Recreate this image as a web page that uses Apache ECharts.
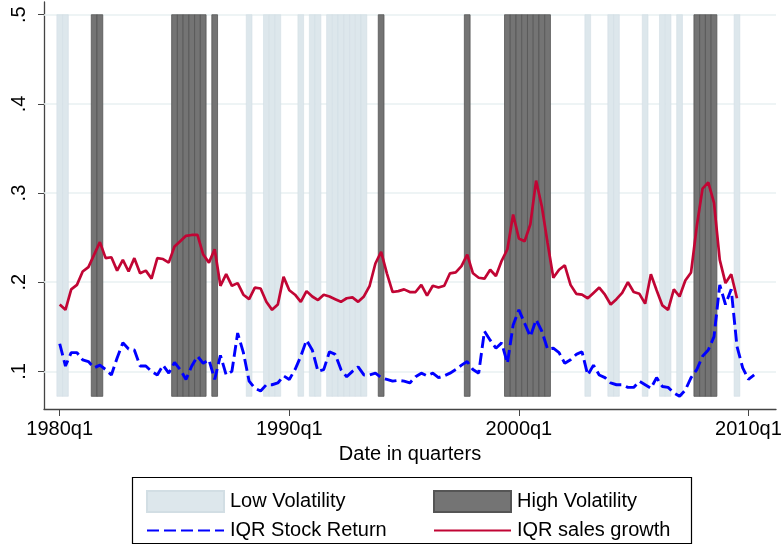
<!DOCTYPE html>
<html>
<head>
<meta charset="utf-8">
<title>IQR by volatility regime</title>
<script src="https://cdn.jsdelivr.net/npm/echarts@6.0.0/dist/echarts.min.js"></script>
<style>
    html, body { margin: 0; padding: 0; background: #fff; }
    #main { width: 781px; height: 545px; }
</style>
</head>
<body>
<div id="main"></div>
<script>
// quarters flagged as low / high volatility regimes
var lowVolQuarters = ['1980q1', '1980q2', '1988q2', '1989q1', '1989q2', '1989q3',
    '1990q3', '1991q1', '1991q2', '1991q4', '1992q1', '1992q2', '1992q3', '1992q4',
    '1993q1', '1993q2', '2003q1', '2004q1', '2004q2', '2005q3', '2006q2', '2006q3',
    '2007q1', '2009q3'];
var highVolQuarters = ['1981q3', '1981q4', '1985q1', '1985q2', '1985q3', '1985q4',
    '1986q1', '1986q2', '1986q4', '1994q1', '1997q4', '1999q3', '1999q4', '2000q1',
    '2000q2', '2000q3', '2000q4', '2001q1', '2001q2', '2007q4', '2008q1', '2008q2',
    '2008q3'];
// shaded band runs from ... to ...
var bandRange = [0.072, 0.5];

// IQR of sales growth, from 1980q1
var salesGrowth = [
    0.175, 0.169, 0.192, 0.197, 0.212, 0.217, 0.231, 0.245, 0.227, 0.228,
    0.213, 0.225, 0.212, 0.227, 0.210, 0.213, 0.204, 0.227, 0.226, 0.222,
    0.240, 0.246, 0.252, 0.253, 0.253, 0.231, 0.222, 0.237, 0.196, 0.209,
    0.196, 0.199, 0.186, 0.181, 0.194, 0.193, 0.178, 0.169, 0.175, 0.206,
    0.191, 0.186, 0.178, 0.190, 0.184, 0.180, 0.186, 0.184, 0.181, 0.178,
    0.182, 0.183, 0.178, 0.184, 0.196, 0.221, 0.234, 0.210, 0.189, 0.190,
    0.192, 0.189, 0.189, 0.197, 0.185, 0.196, 0.194, 0.196, 0.210, 0.211,
    0.218, 0.231, 0.210, 0.205, 0.204, 0.214, 0.207, 0.224, 0.237, 0.276,
    0.249, 0.246, 0.265, 0.314, 0.285, 0.244, 0.205, 0.214, 0.219, 0.197,
    0.187, 0.186, 0.182, 0.188, 0.194, 0.186, 0.175, 0.181, 0.188, 0.200,
    0.189, 0.187, 0.176, 0.209, 0.191, 0.174, 0.169, 0.192, 0.184, 0.202,
    0.211, 0.263, 0.305, 0.312, 0.289, 0.225, 0.199, 0.209, 0.182
];
// IQR of stock returns, from 1980q1
var stockReturn = [
    0.131, 0.106, 0.121, 0.121, 0.113, 0.111, 0.104, 0.107, 0.102, 0.096,
    0.115, 0.132, 0.125, 0.124, 0.106, 0.106, 0.100, 0.096, 0.107, 0.098,
    0.110, 0.102, 0.091, 0.106, 0.117, 0.109, 0.113, 0.091, 0.118, 0.096,
    0.100, 0.143, 0.121, 0.089, 0.081, 0.078, 0.085, 0.085, 0.087, 0.095,
    0.091, 0.102, 0.117, 0.135, 0.124, 0.100, 0.102, 0.122, 0.119, 0.102,
    0.094, 0.100, 0.105, 0.096, 0.096, 0.098, 0.093, 0.091, 0.089, 0.090,
    0.089, 0.087, 0.094, 0.098, 0.095, 0.098, 0.093, 0.095, 0.098, 0.102,
    0.107, 0.111, 0.102, 0.098, 0.145, 0.135, 0.126, 0.132, 0.109, 0.152,
    0.169, 0.154, 0.139, 0.158, 0.145, 0.125, 0.126, 0.121, 0.109, 0.113,
    0.119, 0.122, 0.096, 0.107, 0.096, 0.093, 0.087, 0.085, 0.085, 0.082,
    0.082, 0.089, 0.085, 0.081, 0.093, 0.083, 0.082, 0.076, 0.072, 0.079,
    0.093, 0.102, 0.117, 0.124, 0.139, 0.197, 0.175, 0.192, 0.128, 0.104,
    0.091, 0.096
];
var xTickQuarters = ['1980q1', '1990q1', '2000q1', '2010q1'];
var yTicks = [0.1, 0.2, 0.3, 0.4, 0.5];

var baseYear = 1980;
var font = "'Liberation Sans', Arial, sans-serif";

// '1985q3' -> quarters since 1980q1
function qIndex(label) {
    var parts = label.split('q');
    return (parseInt(parts[0], 10) - baseYear) * 4 + parseInt(parts[1], 10) - 1;
}
function qLabel(i) {
    return (baseYear + Math.floor(i / 4)) + 'q' + (i % 4 + 1);
}
function toPairs(values) {
    return values.map(function(v, i) { return [i, v]; });
}
function toBands(list) {
    return list.map(function(q) { return [qIndex(q), bandRange[0], bandRange[1]]; });
}
// one rectangle per quarter, centred on the quarter
function renderBand(params, api) {
    var x = api.value(0);
    var p0 = api.coord([x - 0.5, api.value(2)]);
    var p1 = api.coord([x + 0.5, api.value(1)]);
    return {
        type: 'rect',
        shape: { x: p0[0], y: p0[1], width: p1[0] - p0[0], height: p1[1] - p0[1] },
        style: api.style()
    };
}

var myChart = echarts.init(document.getElementById('main'));

// line entries in the legend: hide the marker dot, keep the line
var noDot = { color: 'rgba(0,0,0,0)', borderWidth: 0 };
var legendText = { fontSize: 20, color: '#000', fontFamily: font, padding: [0, 0, 0, 1] };

var option = {
    animation: false,
    backgroundColor: '#fff',
    textStyle: { fontFamily: font },
    grid: { left: 44, right: 5, top: 2, bottom: 136, outerBoundsMode: 'none', containLabel: false },
    legend: [{
        orient: 'vertical',
        left: 141, top: 485,
        itemWidth: 77, itemHeight: 21, itemGap: 7.5,
        textStyle: legendText,
        data: [{ name: 'Low Volatility', icon: 'rect' }, { name: 'IQR Stock Return', itemStyle: noDot }]
    }, {
        orient: 'vertical',
        left: 428, top: 485,
        itemWidth: 77, itemHeight: 21, itemGap: 7.5,
        textStyle: legendText,
        data: [{ name: 'High Volatility', icon: 'rect' }, { name: 'IQR sales growth', itemStyle: noDot }]
    }],
    graphic: [{
        type: 'rect',
        z: -1,
        shape: { x: 132.5, y: 477.5, width: 559, height: 66 },
        style: { fill: '#fff', stroke: '#000', lineWidth: 1.2 }
    }],
    xAxis: {
        type: 'value',
        min: -2.74,
        max: 124.8,
        name: 'Date in quarters',
        nameLocation: 'middle',
        nameGap: 35,
        nameTextStyle: { fontSize: 20, color: '#000', fontFamily: font },
        axisLine: { onZero: false, lineStyle: { color: '#444', width: 1.3 } },
        axisTick: { length: 7, lineStyle: { color: '#444' }, customValues: xTickQuarters.map(qIndex) },
        axisLabel: {
            customValues: xTickQuarters.map(qIndex),
            formatter: function(v) { return qLabel(v); },
            fontSize: 20, color: '#000', margin: 10, fontFamily: font
        },
        splitLine: { show: false }
    },
    yAxis: {
        type: 'value',
        min: 0.0578,
        max: 0.5143,
        axisLine: { show: true, onZero: false, lineStyle: { color: '#444', width: 1.3 } },
        axisTick: { show: true, length: 6, lineStyle: { color: '#444' }, customValues: yTicks },
        axisLabel: {
            customValues: yTicks,
            rotate: 90,
            margin: 15,
            formatter: function(v) { return v.toFixed(1).replace(/^0/, ''); },
            fontSize: 20, color: '#000', fontFamily: font
        },
        splitLine: { show: false }
    },
    series: [{
        // grid lines
        type: 'line',
        data: [],
        silent: true,
        z: 1,
        markLine: {
            z: 1,
            silent: true,
            symbol: 'none',
            label: { show: false },
            lineStyle: { color: '#e8f0f2', width: 1.6, type: 'solid' },
            data: yTicks.map(function(v) { return { yAxis: v }; })
        }
    }, {
        name: 'Low Volatility',
        type: 'custom',
        z: 3,
        renderItem: renderBand,
        encode: { x: 0, y: [1, 2] },
        itemStyle: { color: '#dde7ec', borderColor: '#d2dee4', borderWidth: 0.6 },
        data: toBands(lowVolQuarters)
    }, {
        name: 'High Volatility',
        type: 'custom',
        z: 3,
        renderItem: renderBand,
        encode: { x: 0, y: [1, 2] },
        itemStyle: { color: '#747474', borderColor: '#555', borderWidth: 0.8 },
        data: toBands(highVolQuarters)
    }, {
        name: 'IQR Stock Return',
        type: 'line',
        z: 4,
        symbol: 'none',
        lineStyle: { color: '#0000ff', width: 2.9, type: [12, 5] },
        itemStyle: { color: '#0000ff' },
        data: toPairs(stockReturn)
    }, {
        name: 'IQR sales growth',
        type: 'line',
        z: 5,
        symbol: 'none',
        lineStyle: { color: '#c10534', width: 2.7 },
        itemStyle: { color: '#c10534' },
        data: toPairs(salesGrowth)
    }]
};

myChart.setOption(option);
</script>
</body>
</html>
